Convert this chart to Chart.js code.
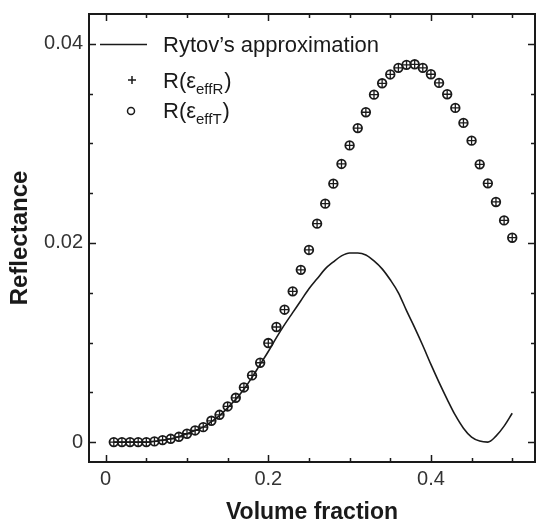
<!DOCTYPE html>
<html><head><meta charset="utf-8">
<script src="https://cdn.jsdelivr.net/npm/chart.js@4"></script>
<style>html,body{margin:0;padding:0;background:#fff}#wrap{width:536px;height:528px}</style>
</head><body><div id="wrap"><canvas id="c" width="536" height="528"></canvas></div>
<script>
const volumeFraction = [0.01,0.02,0.03,0.04,0.05,0.06,0.07,0.08,0.09,0.10,
  0.11,0.12,0.13,0.14,0.15,0.16,0.17,0.18,0.19,0.20,
  0.21,0.22,0.23,0.24,0.25,0.26,0.27,0.28,0.29,0.30,
  0.31,0.32,0.33,0.34,0.35,0.36,0.37,0.38,0.39,0.40,
  0.41,0.42,0.43,0.44,0.45,0.46,0.47,0.48,0.49,0.50];
const rytov = [0,0,0,0,0,0.00007,0.0002,0.00033,0.00053,0.00084,
  0.00117,0.0015,0.00205,0.00265,0.00345,0.0043,0.0053,0.0065,0.0078,0.0091,
  0.0105,0.0118,0.0130,0.0142,0.0154,0.0164,0.0174,0.0181,0.0187,0.0190,
  0.0190,0.0188,0.0182,0.0174,0.0163,0.0150,0.0132,0.0115,0.0097,0.0078,
  0.0060,0.0043,0.0027,0.0014,0.0005,0.0001,0.0000,0.0006,0.0016,0.0029];
const rEffR = [0,0,0,0,0,0.00007,0.0002,0.00033,0.00053,0.00084,
  0.00117,0.0015,0.00214,0.00274,0.00358,0.00445,0.00549,0.0067,0.00797,0.00995,
  0.01156,0.0133,0.01514,0.0173,0.0193,0.02194,0.02395,0.02596,0.02794,0.0298,
  0.03154,0.03313,0.0349,0.03604,0.03693,0.03759,0.03789,0.03795,0.03759,0.03695,
  0.03608,0.03494,0.03357,0.03206,0.03028,0.0279,0.02599,0.02412,0.02227,0.02053];
const rEffT = [0,0,0,0,0,0.00007,0.0002,0.00033,0.00053,0.00084,
  0.00117,0.0015,0.00214,0.00274,0.00358,0.00445,0.00549,0.0067,0.00797,0.00995,
  0.01156,0.0133,0.01514,0.0173,0.0193,0.02194,0.02395,0.02596,0.02794,0.0298,
  0.03154,0.03313,0.0349,0.03604,0.03693,0.03759,0.03789,0.03795,0.03759,0.03695,
  0.03608,0.03494,0.03357,0.03206,0.03028,0.0279,0.02599,0.02412,0.02227,0.02053];
const xTickValues = [0,0.05,0.1,0.15,0.2,0.25,0.3,0.35,0.4,0.45,0.5];
const xTickLabels = ['0','','','','0.2','','','','0.4','',''];
const yTickValues = [0,0.005,0.01,0.015,0.02,0.025,0.03,0.035,0.04];
const yTickLabels = ['0','','','','0.02','','','','0.04'];
const seriesNames = ["Rytov\u2019s approximation", "R(\u03B5", "effR", "effT", ")"];

const pts = (ys) => volumeFraction.map((x, i) => ({x: x, y: ys[i]}));
const INK = '#1a1a1a';

const framePlugin = {
  id: 'frame',
  afterDraw(chart) {
    const {ctx, chartArea: a, scales} = chart;
    ctx.save();
    ctx.strokeStyle = INK;
    ctx.lineWidth = 2;
    ctx.strokeRect(a.left, a.top, a.right - a.left, a.bottom - a.top);
    ctx.lineWidth = 1.5;
    ctx.beginPath();
    xTickValues.forEach((v, i) => {
      const px = Math.round(scales.x.getPixelForValue(v)) + 0.5;
      const len = xTickLabels[i] !== '' ? 7 : 4;
      ctx.moveTo(px, a.bottom); ctx.lineTo(px, a.bottom - len);
      ctx.moveTo(px, a.top); ctx.lineTo(px, a.top + len);
    });
    yTickValues.forEach((v, i) => {
      const py = Math.round(scales.y.getPixelForValue(v)) + 0.5;
      const len = yTickLabels[i] !== '' ? 7 : 4;
      ctx.moveTo(a.left, py); ctx.lineTo(a.left + len, py);
      ctx.moveTo(a.right, py); ctx.lineTo(a.right - len, py);
    });
    ctx.stroke();

    // legend
    ctx.fillStyle = INK;
    ctx.strokeStyle = INK;
    ctx.lineWidth = 1.5;
    ctx.beginPath(); ctx.moveTo(100, 44.5); ctx.lineTo(147, 44.5); ctx.stroke();
    ctx.textBaseline = 'alphabetic';
    ctx.textAlign = 'left';
    const big = '22px "Liberation Sans", Arial, sans-serif';
    const small = '15px "Liberation Sans", Arial, sans-serif';
    ctx.font = big;
    ctx.fillText(seriesNames[0], 163, 52);
    ctx.lineWidth = 1.5;
    ctx.beginPath();
    ctx.moveTo(128, 80); ctx.lineTo(136, 80);
    ctx.moveTo(132, 76); ctx.lineTo(132, 84);
    ctx.stroke();
    ctx.beginPath(); ctx.arc(131, 111, 3.5, 0, Math.PI * 2); ctx.stroke();
    const drawSub = (y, sub) => {
      ctx.font = big;
      let x = 163;
      ctx.fillText(seriesNames[1], x, y);
      x += ctx.measureText(seriesNames[1]).width;
      ctx.font = small;
      ctx.fillText(sub, x, y + 6);
      x += ctx.measureText(sub).width + 1;
      ctx.font = big;
      ctx.fillText(seriesNames[4], x, y);
    };
    drawSub(88, seriesNames[2]);
    drawSub(118, seriesNames[3]);
    ctx.restore();
  }
};

new Chart(document.getElementById('c'), {
  type: 'scatter',
  data: {
    datasets: [
      { label: seriesNames[0], data: pts(rytov), showLine: true, borderColor: INK, borderWidth: 1.6,
        pointRadius: 0, cubicInterpolationMode: 'monotone', fill: false, order: 3 },
      { label: 'R(effR)', data: pts(rEffR), showLine: false, pointStyle: 'cross', pointRadius: 4,
        borderColor: INK, borderWidth: 1.3, backgroundColor: 'transparent', order: 1 },
      { label: 'R(effT)', data: pts(rEffT), showLine: false, pointStyle: 'circle', pointRadius: 4.3,
        borderColor: INK, borderWidth: 1.8, backgroundColor: 'transparent', order: 2 }
    ]
  },
  options: {
    responsive: false,
    animation: false,
    layout: { autoPadding: false, padding: { top: 14, right: 1, left: 0, bottom: 0 } },
    plugins: { legend: { display: false }, tooltip: { enabled: false } },
    scales: {
      x: {
        type: 'linear', min: -0.0205, max: 0.528,
        afterBuildTicks: (s) => { s.ticks = xTickValues.map(v => ({value: v})); },
        afterFit: (s) => { s.height = 66; s.paddingLeft = 0; s.paddingRight = 0; },
        grid: { display: false, drawTicks: false }, border: { display: false },
        ticks: { autoSkip: false, maxRotation: 0, padding: 5, color: '#333',
          font: { family: '"Liberation Sans", Arial, sans-serif', size: 20 },
          callback: (v, i) => xTickLabels[i] },
        title: { display: true, text: 'Volume fraction', color: INK,
          font: { family: '"Liberation Sans", Arial, sans-serif', size: 23, weight: 'bold' },
          padding: { top: 0, bottom: 2 } }
      },
      y: {
        type: 'linear', min: -0.002, max: 0.043,
        afterBuildTicks: (s) => { s.ticks = yTickValues.map(v => ({value: v})); },
        afterFit: (s) => { s.width = 89; s.paddingTop = 0; s.paddingBottom = 0; },
        grid: { display: false, drawTicks: false }, border: { display: false },
        ticks: { autoSkip: false, padding: 6, color: '#333',
          font: { family: '"Liberation Sans", Arial, sans-serif', size: 20 },
          callback: (v, i) => yTickLabels[i] },
        title: { display: true, text: 'Reflectance', color: INK,
          font: { family: '"Liberation Sans", Arial, sans-serif', size: 24, weight: 'bold' },
          padding: { top: 6, bottom: 0 } }
      }
    }
  },
  plugins: [framePlugin]
});
</script>
</body></html>
